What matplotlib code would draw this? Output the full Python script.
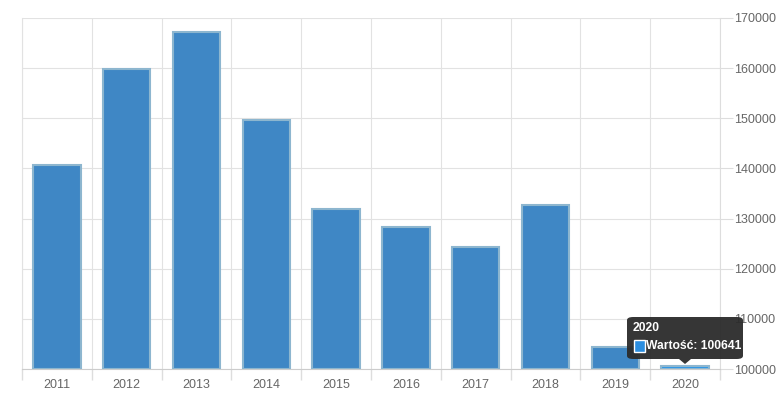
import matplotlib
matplotlib.use("Agg")
import matplotlib.pyplot as plt
from matplotlib.patches import FancyBboxPatch, Rectangle, Polygon

years = ['2011', '2012', '2013', '2014', '2015', '2016', '2017', '2018', '2019', '2020']
values = [140600, 159800, 167200, 149600, 131900, 128300, 124300, 132700, 104300, 100641]
y_ticks = [100000, 110000, 120000, 130000, 140000, 150000, 160000, 170000]

plt.rcParams['font.family'] = ['Liberation Sans', 'DejaVu Sans']

fig = plt.figure(figsize=(7.82, 3.98), dpi=100)
ax = fig.add_axes([22 / 782, 29 / 398, 698 / 782, 351 / 398])

x = list(range(len(years)))
colors = ['#3f87c5'] * (len(years) - 1) + ['#2b95e8']
ax.bar(x, [v - 100000 for v in values], bottom=100000, width=0.68,
       color=colors, edgecolor='#8db6cf', linewidth=1.5, zorder=3)

ax.set_xlim(-0.5, len(years) - 0.5)
ax.set_ylim(100000, 170000)

# category borders as major ticks (grid + tick marks), labels centred as minor ticks
ax.set_xticks([i - 0.5 for i in range(len(years) + 1)], minor=False)
ax.set_xticklabels([])
ax.set_xticks(x, minor=True)
ax.set_xticklabels(years, minor=True)
ax.tick_params(axis='x', which='major', length=8, color='#dddddd', width=1)
ax.tick_params(axis='x', which='minor', length=0, labelsize=9, labelcolor='#666666', pad=7)

ax.yaxis.tick_right()
ax.set_yticks(y_ticks)
ax.set_yticklabels([str(t) for t in y_ticks])
ax.tick_params(axis='y', length=9, color='#dddddd', labelsize=9, labelcolor='#666666', pad=1)

ax.grid(True, which='major', color='#e2e2e2', linewidth=0.8, zorder=0)
ax.spines['top'].set_visible(False)
ax.spines['right'].set_color('#dddddd')
ax.spines['bottom'].set_color('#cccccc')
ax.spines['left'].set_color('#e2e2e2')

# tooltip for 2020
tx0, ty0, tw, th = 627 / 782, (398 - 359) / 398, 116 / 782, 42 / 398
box = FancyBboxPatch((tx0, ty0), tw, th, boxstyle='round,pad=0,rounding_size=0.008',
                     transform=fig.transFigure, facecolor='#2b2b2b', edgecolor='none',
                     alpha=0.95, zorder=10)
fig.patches.append(box)
px = 685 / 782
tri = Polygon([[px - 6 / 782, ty0], [px + 6 / 782, ty0], [px, ty0 - 5 / 398]],
              closed=True, transform=fig.transFigure, facecolor='#2b2b2b',
              edgecolor='none', alpha=0.95, zorder=10)
fig.patches.append(tri)
fig.text(633 / 782, (398 - 328) / 398, years[-1], color='white', fontsize=8.7,
         fontweight='bold', va='center', ha='left', zorder=11)
sq = Rectangle((634 / 782, (398 - 352) / 398), 11 / 782, 12 / 398,
               transform=fig.transFigure, facecolor='#2b8ee0', edgecolor='white',
               linewidth=1, zorder=11)
fig.patches.append(sq)
fig.text(646 / 782, (398 - 346) / 398, 'Wartość: ' + str(values[-1]), color='white',
         fontsize=8.7, fontweight='bold', va='center', ha='left', zorder=11)

fig.savefig('out.png', dpi=100)
